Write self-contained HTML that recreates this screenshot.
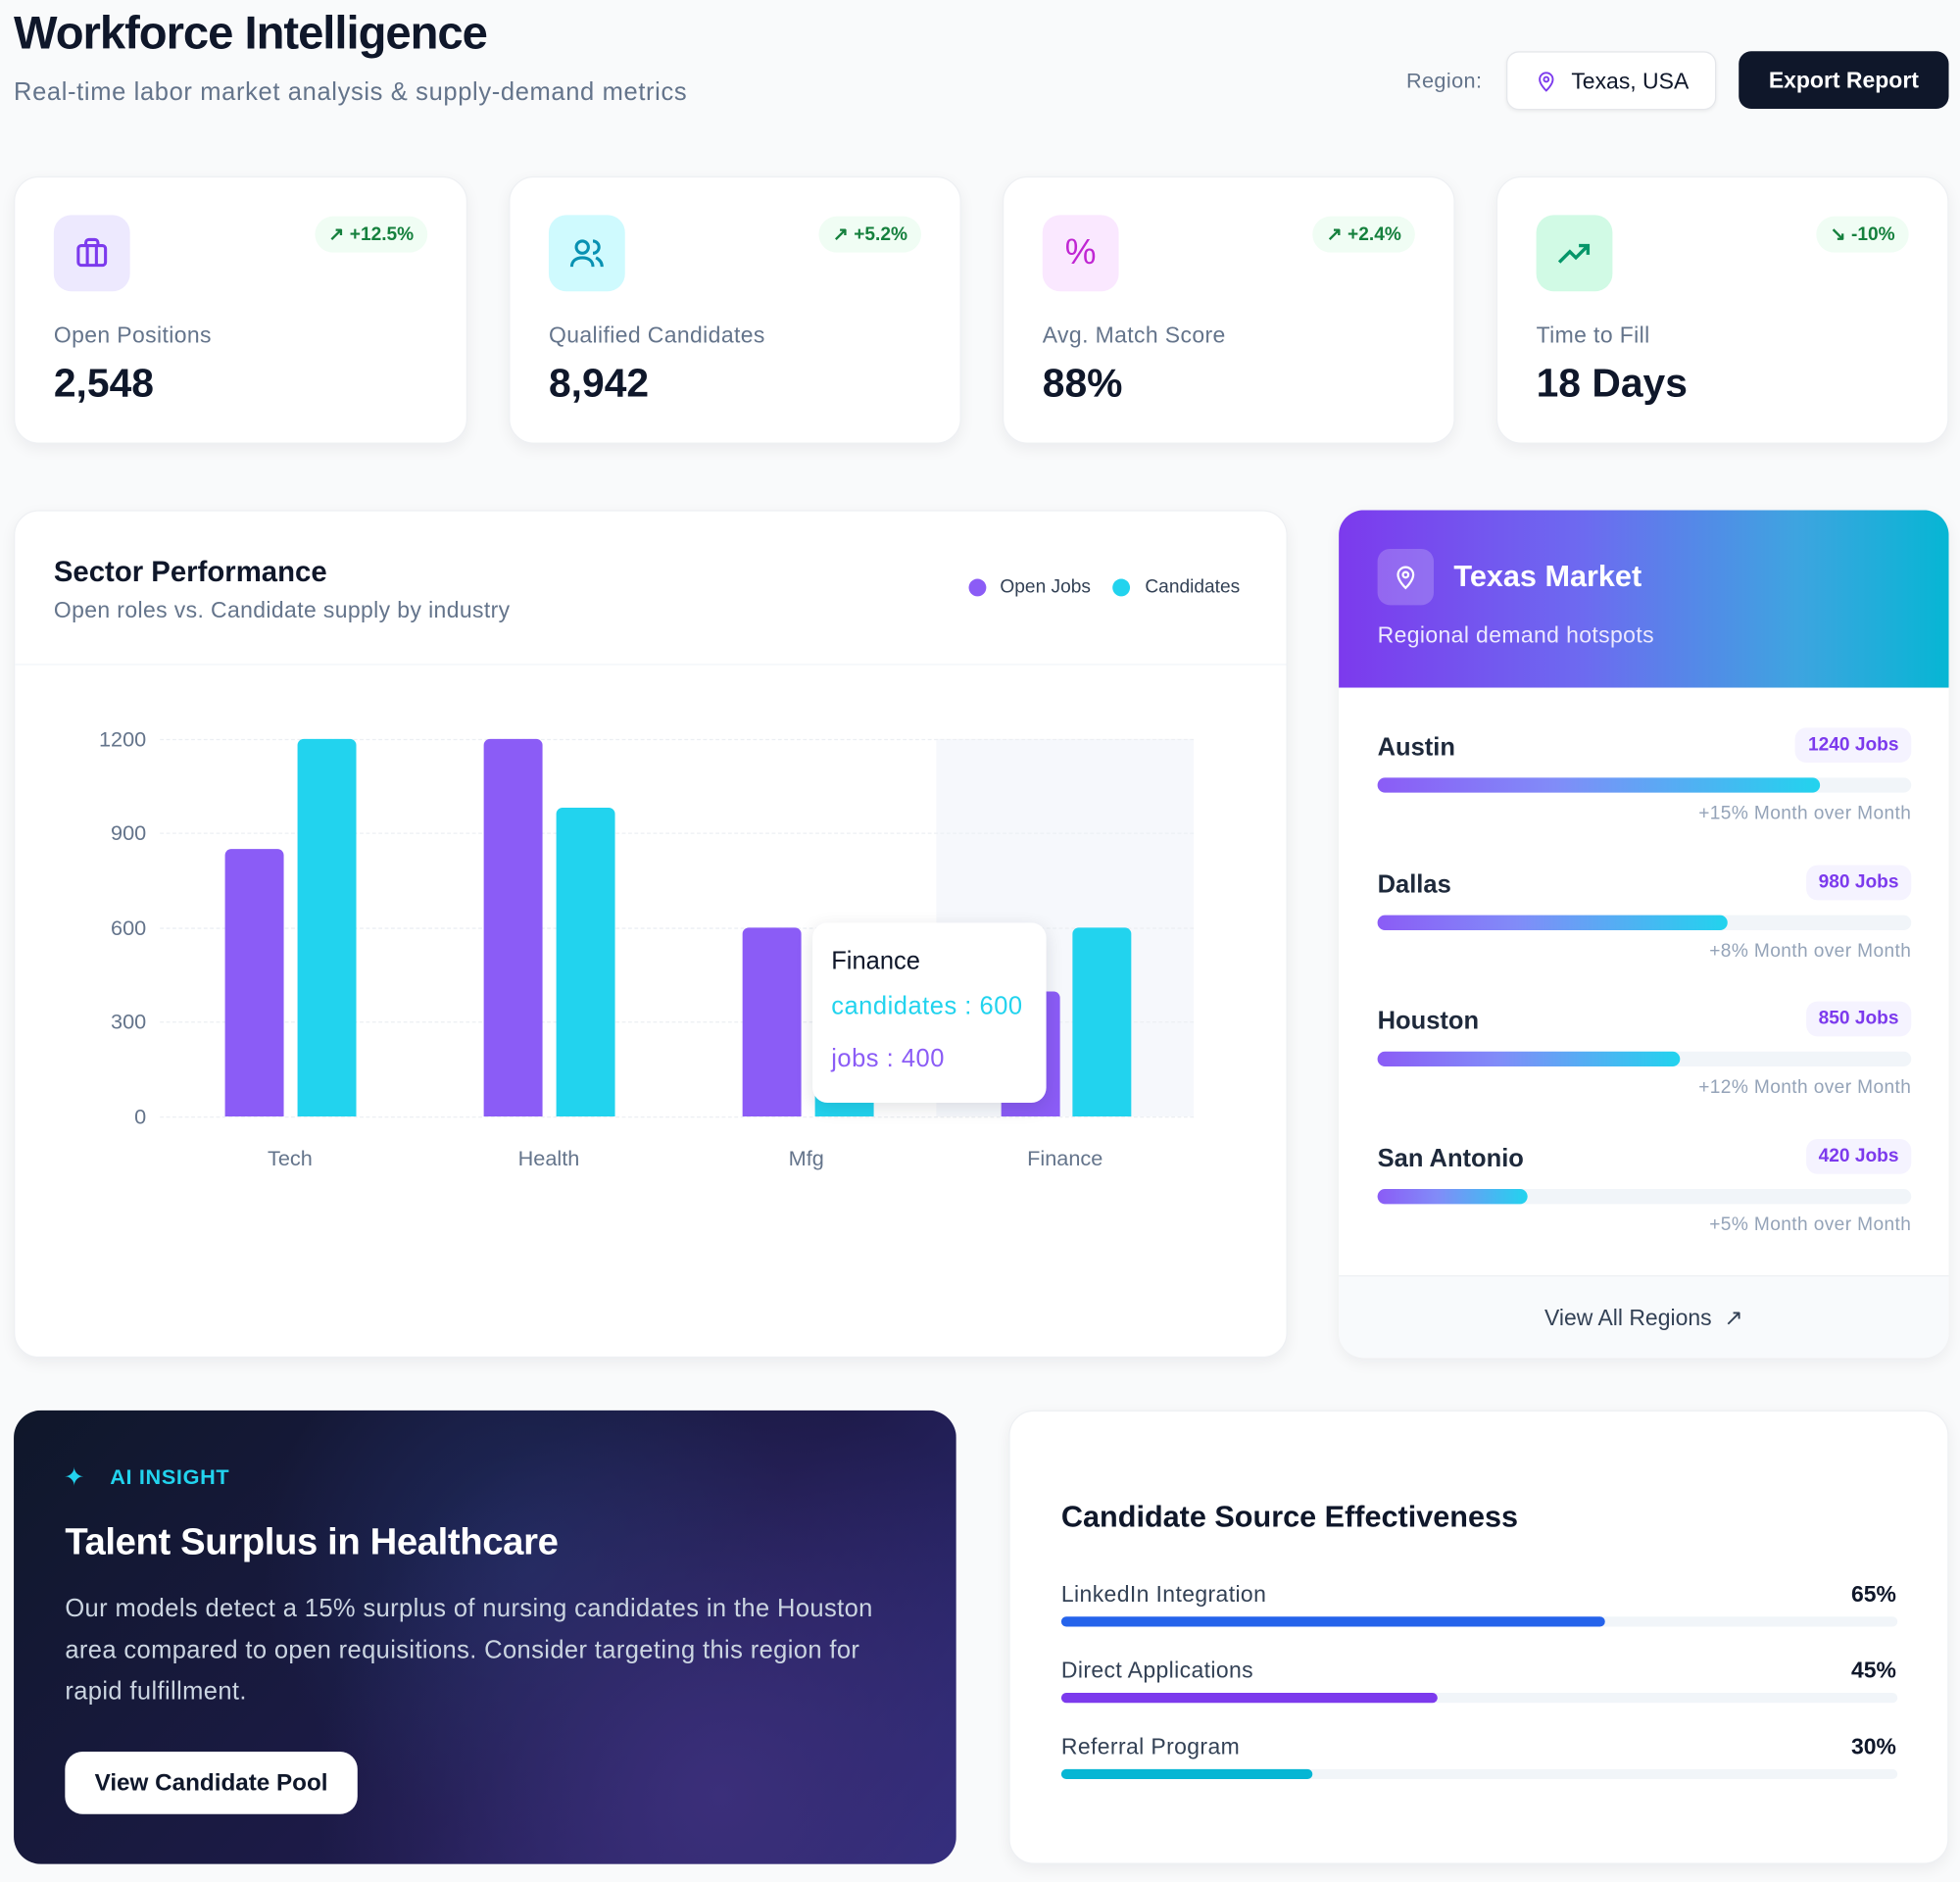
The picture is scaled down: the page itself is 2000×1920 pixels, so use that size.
<!DOCTYPE html>
<html><head><meta charset="utf-8">
<style>
*{box-sizing:border-box;margin:0;padding:0}
html,body{width:2000px;height:1920px;overflow:hidden;background:#f9fafb}
body{font-family:"Liberation Sans",sans-serif;color:#0f172a}
#w{position:absolute;left:0;top:0;width:1568px;height:1505px;transform:scale(1.27551);transform-origin:0 0}
.a{position:absolute}
.t{position:absolute;white-space:nowrap;line-height:1}
.card{position:absolute;background:#fff;border:1px solid #eef0f3;border-radius:20px;box-shadow:0 4px 12px rgba(15,23,42,.06)}
.ib{position:absolute;left:31px;top:30px;width:61px;height:61px;border-radius:14px}
.bd{position:absolute;top:31px;height:29px;border-radius:15px;background:#f0fdf4;color:#15803d;font-weight:bold;font-size:15px;line-height:29px;padding:0 11px}
.kl{position:absolute;left:31px;top:116px;font-size:18px;color:#64748b;letter-spacing:.3px}
.kv{position:absolute;left:31px;top:146px;font-size:32px;font-weight:bold;color:#0f172a}
.yl{position:absolute;width:60px;text-align:right;font-size:17px;color:#64748b}
.gl{position:absolute;left:128px;width:827px;border-top:1px dashed #eceff3}
.bar{position:absolute;border-radius:5px 5px 0 0}
.cl{position:absolute;font-size:17px;color:#64748b;width:120px;text-align:center}
.rn{position:absolute;left:31px;font-size:20px;font-weight:bold;color:#1e293b}
.rb{position:absolute;right:30px;height:28px;border-radius:9px;background:#f5f3ff;color:#7c3aed;font-weight:bold;font-size:15px;line-height:28px;padding:0 10px}
.tr{position:absolute;left:31px;width:427px;height:12px;border-radius:6px;background:#f1f5f9}
.tf{height:12px;border-radius:6px;background:linear-gradient(90deg,#8b5cf6,#818cf8 40%,#22d3ee)}
.rs{position:absolute;right:30px;font-size:15px;color:#94a3b8;letter-spacing:.3px}
.sl{position:absolute;left:41px;font-size:18px;color:#334155;letter-spacing:.3px}
.sp{position:absolute;right:41px;font-size:18px;font-weight:bold;color:#0f172a}
.st{position:absolute;left:41px;width:669px;height:8px;border-radius:4px;background:#f1f5f9}
.sf{height:8px;border-radius:4px}
</style></head><body><div id="w">

<div class="t" style="left:11px;top:8px;font-size:37px;font-weight:bold;letter-spacing:-.8px;color:#0f172a">Workforce Intelligence</div>
<div class="t" style="left:11px;top:64px;font-size:20px;letter-spacing:.5px;color:#64748b">Real-time labor market analysis &amp; supply-demand metrics</div>
<div class="t" style="left:1125px;top:56px;font-size:17px;color:#64748b;letter-spacing:.3px">Region:</div>
<div class="a" style="left:1205px;top:41px;width:168px;height:47px;background:#fff;border:1px solid #e5e7eb;border-radius:10px;box-shadow:0 1px 3px rgba(0,0,0,.06)">
 <svg class="a" style="left:22px;top:13px" width="18" height="20" viewBox="0 0 24 24" fill="none" stroke="#7c3aed" stroke-width="2"><path d="M12 22s7-6.5 7-12a7 7 0 0 0-14 0c0 5.5 7 12 7 12z"/><circle cx="12" cy="10" r="2.5"/></svg>
 <div class="t" style="left:51px;top:14px;font-size:18px;color:#0f172a">Texas, USA</div>
</div>
<div class="a" style="left:1391px;top:41px;width:168px;height:46px;background:#0f172a;border-radius:10px"><div class="t" style="left:0;width:168px;text-align:center;top:14px;font-size:18px;font-weight:bold;color:#fff">Export Report</div></div>

<!-- KPI -->
<div class="card" style="left:11px;top:141px;width:363px;height:214px">
 <div class="ib" style="background:#ede9fe"><svg class="a" style="left:16px;top:16px" width="29" height="29" viewBox="0 0 24 24" fill="none" stroke="#7c3aed" stroke-width="2"><rect x="3" y="7" width="18" height="13" rx="2"/><path d="M8 7V5a2 2 0 0 1 2-2h4a2 2 0 0 1 2 2v2M9 7v13M15 7v13"/></svg></div>
 <div class="bd" style="right:31px">↗ +12.5%</div>
 <div class="kl">Open Positions</div><div class="kv">2,548</div>
</div>
<div class="card" style="left:407px;top:141px;width:362px;height:214px">
 <div class="ib" style="background:#cffafe"><svg class="a" style="left:16px;top:16px" width="29" height="29" viewBox="0 0 24 24" fill="none" stroke="#0891b2" stroke-width="2"><circle cx="9" cy="8" r="4"/><path d="M2 21c0-4 3-6 7-6s7 2 7 6M16 4a4 4 0 0 1 0 8M22 21c0-3-2-5-4-6"/></svg></div>
 <div class="bd" style="right:31px">↗ +5.2%</div>
 <div class="kl">Qualified Candidates</div><div class="kv">8,942</div>
</div>
<div class="card" style="left:802px;top:141px;width:362px;height:214px">
 <div class="ib" style="background:#fae8ff"><div class="t" style="left:0;width:61px;text-align:center;top:16px;font-size:28px;color:#c026d3">%</div></div>
 <div class="bd" style="right:31px">↗ +2.4%</div>
 <div class="kl">Avg. Match Score</div><div class="kv">88%</div>
</div>
<div class="card" style="left:1197px;top:141px;width:362px;height:214px">
 <div class="ib" style="background:#d1fae5"><svg class="a" style="left:15px;top:16px" width="31" height="29" viewBox="0 0 24 24" fill="none" stroke="#059669" stroke-width="2.2"><path d="M2 18l7-7 4 4 8-8M15 7h6v6"/></svg></div>
 <div class="bd" style="right:31px">↘ -10%</div>
 <div class="kl">Time to Fill</div><div class="kv">18 Days</div>
</div>

<!-- Sector -->
<div class="card" style="left:11px;top:408px;width:1019px;height:678px;overflow:hidden">
 <div class="t" style="left:31px;top:37px;font-size:23px;font-weight:bold">Sector Performance</div>
 <div class="t" style="left:31px;top:70px;font-size:18px;color:#64748b;letter-spacing:.3px">Open roles vs. Candidate supply by industry</div>
 <div class="a" style="left:763px;top:54px;width:14px;height:14px;border-radius:7px;background:#8b5cf6"></div>
 <div class="t" style="left:788px;top:53px;font-size:15px;color:#334155">Open Jobs</div>
 <div class="a" style="left:878px;top:54px;width:14px;height:14px;border-radius:7px;background:#22d3ee"></div>
 <div class="t" style="left:904px;top:53px;font-size:15px;color:#334155">Candidates</div>
 <div class="a" style="left:0;top:122px;width:1019px;border-top:1px solid #f1f5f9"></div>
</div>
<div class="a" style="left:749px;top:591px;width:206px;height:302px;background:#f6f8fc"></div>
<div class="gl" style="top:591px"></div><div class="gl" style="top:666px"></div><div class="gl" style="top:742px"></div><div class="gl" style="top:817px"></div><div class="gl" style="top:893px"></div>
<div class="yl" style="left:57px;top:582px">1200</div><div class="yl" style="left:57px;top:657px">900</div><div class="yl" style="left:57px;top:733px">600</div><div class="yl" style="left:57px;top:808px">300</div><div class="yl" style="left:57px;top:884px">0</div>
<div class="bar" style="left:180px;top:679px;width:47px;height:214px;background:#8b5cf6"></div>
<div class="bar" style="left:238px;top:591px;width:47px;height:302px;background:#22d3ee"></div>
<div class="bar" style="left:387px;top:591px;width:47px;height:302px;background:#8b5cf6"></div>
<div class="bar" style="left:445px;top:646px;width:47px;height:247px;background:#22d3ee"></div>
<div class="bar" style="left:594px;top:742px;width:47px;height:151px;background:#8b5cf6"></div>
<div class="bar" style="left:652px;top:780px;width:47px;height:113px;background:#22d3ee"></div>
<div class="bar" style="left:801px;top:793px;width:47px;height:100px;background:#8b5cf6"></div>
<div class="bar" style="left:858px;top:742px;width:47px;height:151px;background:#22d3ee"></div>
<div class="cl" style="left:172px;top:917px">Tech</div><div class="cl" style="left:379px;top:917px">Health</div><div class="cl" style="left:585px;top:917px">Mfg</div><div class="cl" style="left:792px;top:917px">Finance</div>
<div class="a" style="left:650px;top:738px;width:187px;height:144px;background:#fff;border-radius:12px;box-shadow:0 4px 14px rgba(15,23,42,.12)">
 <div class="t" style="left:15px;top:21px;font-size:20px;color:#0f172a">Finance</div>
 <div class="t" style="left:15px;top:57px;font-size:20px;color:#22d3ee;letter-spacing:.4px">candidates : 600</div>
 <div class="t" style="left:15px;top:99px;font-size:20px;color:#8b5cf6;letter-spacing:.4px">jobs : 400</div>
</div>

<!-- Texas -->
<div class="card" style="left:1071px;top:408px;width:488px;height:678px;overflow:hidden;border:none">
 <div class="a" style="left:0;top:0;width:488px;height:142px;background:linear-gradient(90deg,#7c3aed,#6d6af0 40%,#3ea4e0 75%,#06b6d4)"></div>
 <div class="a" style="left:31px;top:31px;width:45px;height:45px;border-radius:10px;background:rgba(255,255,255,.2)"><svg class="a" style="left:12px;top:11px" width="21" height="23" viewBox="0 0 24 24" fill="none" stroke="#fff" stroke-width="2"><path d="M12 22s7-6.5 7-12a7 7 0 0 0-14 0c0 5.5 7 12 7 12z"/><circle cx="12" cy="10" r="2.5"/></svg></div>
 <div class="t" style="left:92px;top:42px;font-size:24px;font-weight:bold;color:#fff">Texas Market</div>
 <div class="t" style="left:31px;top:91px;font-size:18px;color:#ede9fe;letter-spacing:.3px">Regional demand hotspots</div>

 <div class="rn" style="top:179px">Austin</div><div class="rb" style="top:174px">1240 Jobs</div>
 <div class="tr" style="top:214px"><div class="tf" style="width:354px"></div></div>
 <div class="rs" style="top:234px">+15% Month over Month</div>

 <div class="rn" style="top:289px">Dallas</div><div class="rb" style="top:284px">980 Jobs</div>
 <div class="tr" style="top:324px"><div class="tf" style="width:280px"></div></div>
 <div class="rs" style="top:344px">+8% Month over Month</div>

 <div class="rn" style="top:398px">Houston</div><div class="rb" style="top:393px">850 Jobs</div>
 <div class="tr" style="top:433px"><div class="tf" style="width:242px"></div></div>
 <div class="rs" style="top:453px">+12% Month over Month</div>

 <div class="rn" style="top:508px">San Antonio</div><div class="rb" style="top:503px">420 Jobs</div>
 <div class="tr" style="top:543px"><div class="tf" style="width:120px"></div></div>
 <div class="rs" style="top:563px">+5% Month over Month</div>

 <div class="a" style="left:0;top:612px;width:488px;height:66px;background:#f8fafc;border-top:1px solid #eef0f3"></div>
 <div class="t" style="left:0;width:488px;text-align:center;top:637px;font-size:18px;color:#334155">View All Regions&nbsp;&nbsp;↗</div>
</div>

<!-- AI -->
<div class="a" style="left:11px;top:1128px;width:754px;height:363px;border-radius:22px;overflow:hidden;background:radial-gradient(circle at 75% 85%,#3b2f7a 0%,rgba(49,46,129,0) 50%),radial-gradient(circle at 55% 35%,#1e2a5a 0%,rgba(30,41,90,0) 45%),linear-gradient(135deg,#0f172a 0%,#1e1b4b 60%,#312e81 100%)">
 <div class="t" style="left:40px;top:44px;font-size:20px;color:#22d3ee">✦</div>
 <div class="t" style="left:77px;top:45px;font-size:17px;font-weight:bold;color:#22d3ee;letter-spacing:.5px">AI INSIGHT</div>
 <div class="t" style="left:41px;top:91px;font-size:30px;font-weight:bold;color:#fff;letter-spacing:-.3px">Talent Surplus in Healthcare</div>
 <div class="a" style="left:41px;top:143px;width:672px;font-size:20px;line-height:33px;color:#cbd5e1;letter-spacing:.3px">Our models detect a 15% surplus of nursing candidates in the Houston area compared to open requisitions. Consider targeting this region for rapid fulfillment.</div>
 <div class="a" style="left:41px;top:273px;width:234px;height:50px;background:#fff;border-radius:14px"><div class="t" style="left:0;width:234px;text-align:center;top:16px;font-size:19px;font-weight:bold;color:#0f172a">View Candidate Pool</div></div>
</div>

<!-- Sources -->
<div class="card" style="left:807px;top:1128px;width:752px;height:363px">
 <div class="t" style="left:41px;top:73px;font-size:24px;font-weight:bold">Candidate Source Effectiveness</div>
 <div class="sl" style="top:136px">LinkedIn Integration</div><div class="sp" style="top:136px">65%</div>
 <div class="st" style="top:164px"><div class="sf" style="width:435px;background:#2563eb"></div></div>
 <div class="sl" style="top:197px">Direct Applications</div><div class="sp" style="top:197px">45%</div>
 <div class="st" style="top:225px"><div class="sf" style="width:301px;background:#7c3aed"></div></div>
 <div class="sl" style="top:258px">Referral Program</div><div class="sp" style="top:258px">30%</div>
 <div class="st" style="top:286px"><div class="sf" style="width:201px;background:#06b6d4"></div></div>
</div>

</div></body></html>
